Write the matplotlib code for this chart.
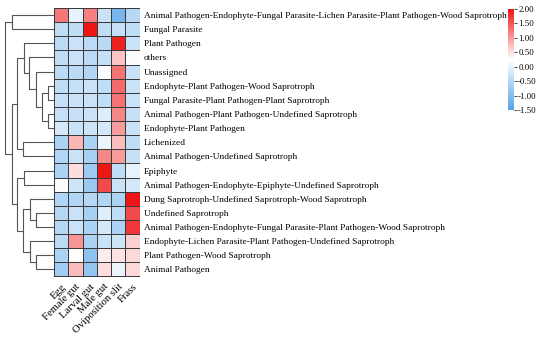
import numpy as np
import matplotlib
matplotlib.use("Agg")
import matplotlib.pyplot as plt
from matplotlib.colors import LinearSegmentedColormap, Normalize

plt.rcParams['font.family'] = ['Liberation Serif', 'DejaVu Serif']

# donnees (z-score par ligne)
guilds = [
    "Animal Pathogen-Endophyte-Fungal Parasite-Lichen Parasite-Plant Pathogen-Wood Saprotroph",
    "Fungal Parasite",
    "Plant Pathogen",
    "others",
    "Unassigned",
    "Endophyte-Plant Pathogen-Wood Saprotroph",
    "Fungal Parasite-Plant Pathogen-Plant Saprotroph",
    "Animal Pathogen-Plant Pathogen-Undefined Saprotroph",
    "Endophyte-Plant Pathogen",
    "Lichenized",
    "Animal Pathogen-Undefined Saprotroph",
    "Epiphyte",
    "Animal Pathogen-Endophyte-Epiphyte-Undefined Saprotroph",
    "Dung Saprotroph-Undefined Saprotroph-Wood Saprotroph",
    "Undefined Saprotroph",
    "Animal Pathogen-Endophyte-Fungal Parasite-Plant Pathogen-Wood Saprotroph",
    "Endophyte-Lichen Parasite-Plant Pathogen-Undefined Saprotroph",
    "Plant Pathogen-Wood Saprotroph",
    "Animal Pathogen",
]
samples = ["Egg", "Female gut", "Larval gut", "Male gut", "Oviposition slit", "Frass"]

vals = np.array([
    [1.25, 0.00, 1.20, -0.30, -1.15, -0.50],
    [-0.40, -0.40, 2.00, -0.40, -0.35, -0.40],
    [-0.45, -0.30, -0.45, -0.45, 1.90, -0.30],
    [-0.40, -0.30, -0.45, -0.35, 0.70, 0.20],
    [-0.45, -0.45, -0.55, 0.20, 1.30, -0.30],
    [-0.40, -0.35, -0.30, -0.40, 1.35, -0.30],
    [-0.35, -0.30, -0.30, -0.40, 1.30, -0.30],
    [-0.35, -0.35, -0.30, -0.10, 1.15, -0.35],
    [-0.20, -0.30, -0.25, -0.20, 1.00, -0.30],
    [-0.60, 0.80, -0.60, 0.05, 0.75, -0.40],
    [-0.55, -0.30, -0.65, 1.15, 1.00, -0.35],
    [-0.60, 0.50, -0.75, 2.00, -0.40, 0.00],
    [0.20, -0.25, -0.80, 1.60, -0.30, -0.20],
    [-0.55, -0.55, -0.50, -0.55, -0.60, 2.00],
    [-0.50, -0.30, -0.65, -0.10, -0.40, 1.60],
    [-0.50, -0.30, -0.60, -0.20, -0.60, 1.75],
    [-0.45, 1.05, -0.60, -0.30, -0.25, 0.60],
    [-0.60, 0.25, -0.90, 0.40, 0.45, 0.55],
    [-0.70, 0.75, -0.85, 0.50, 0.05, 0.55],
])

# arbre (hauteur, gauche, droite) - hauteurs lues en pixels
tree = (49, (42, 0, 1),
        (42, (37, (30, 2, (25, 3, (18, 4, (12, (6, 5, 6), (6, 7, 8))))), (31, 9, 10)),
         (37, (30, 11, 12), (31, (24, 13, (18, 14, 15)), (24, 16, (18, 17, 18))))))

cmap = LinearSegmentedColormap.from_list("bwr2", ["#55a3e8", "#ffffff", "#ee1515"])
norm = Normalize(vmin=-1.5, vmax=2.0)

W, H = 550, 340
fig = plt.figure(figsize=(5.5, 3.4), dpi=100)

def box(x0, y0, x1, y1):
    return [x0 / W, 1 - y1 / H, (x1 - x0) / W, (y1 - y0) / H]

ax = fig.add_axes(box(54, 8, 139.5, 276.5))
ax.pcolormesh(np.arange(len(samples) + 1), np.arange(len(guilds) + 1), vals,
              cmap=cmap, norm=norm, edgecolors="#3a3a3a", linewidth=0.6)
ax.set_xlim(0, len(samples))
ax.set_ylim(len(guilds), 0)
ax.yaxis.tick_right()
ax.set_yticks(np.arange(len(guilds)) + 0.5)
ax.set_yticklabels(guilds, fontsize=6.75)
ax.set_xticks(np.arange(len(samples)) + 0.5)
ax.set_xticklabels(samples, fontsize=7.7, rotation=45, ha="right", rotation_mode="anchor")
ax.tick_params(axis="y", length=0, pad=3)
ax.tick_params(axis="x", length=0, pad=4)
for s in ax.spines.values():
    s.set_visible(False)

# dendrogramme
axd = fig.add_axes(box(0, 8, 54, 276.5))

def draw(node):
    if not isinstance(node, tuple):
        return node + 0.5, 0
    h, l, r = node
    yl, hl = draw(l)
    yr, hr = draw(r)
    axd.plot([hl, h, h, hr], [yl, yl, yr, yr], color="#555555", lw=0.8)
    return (yl + yr) / 2, h

draw(tree)
axd.set_xlim(54, 0)
axd.set_ylim(len(guilds), 0)
axd.axis("off")

# barre de couleur
cax = fig.add_axes(box(508, 9, 514, 110))
cb = fig.colorbar(plt.cm.ScalarMappable(norm=norm, cmap=cmap), cax=cax,
                  ticks=[-1.5, -1.0, -0.5, 0.0, 0.5, 1.0, 1.5, 2.0], format="%.2f")
cb.outline.set_visible(False)
cax.tick_params(labelsize=6.3, length=2, width=0.5, pad=1)

fig.savefig("out.png", dpi=100)
